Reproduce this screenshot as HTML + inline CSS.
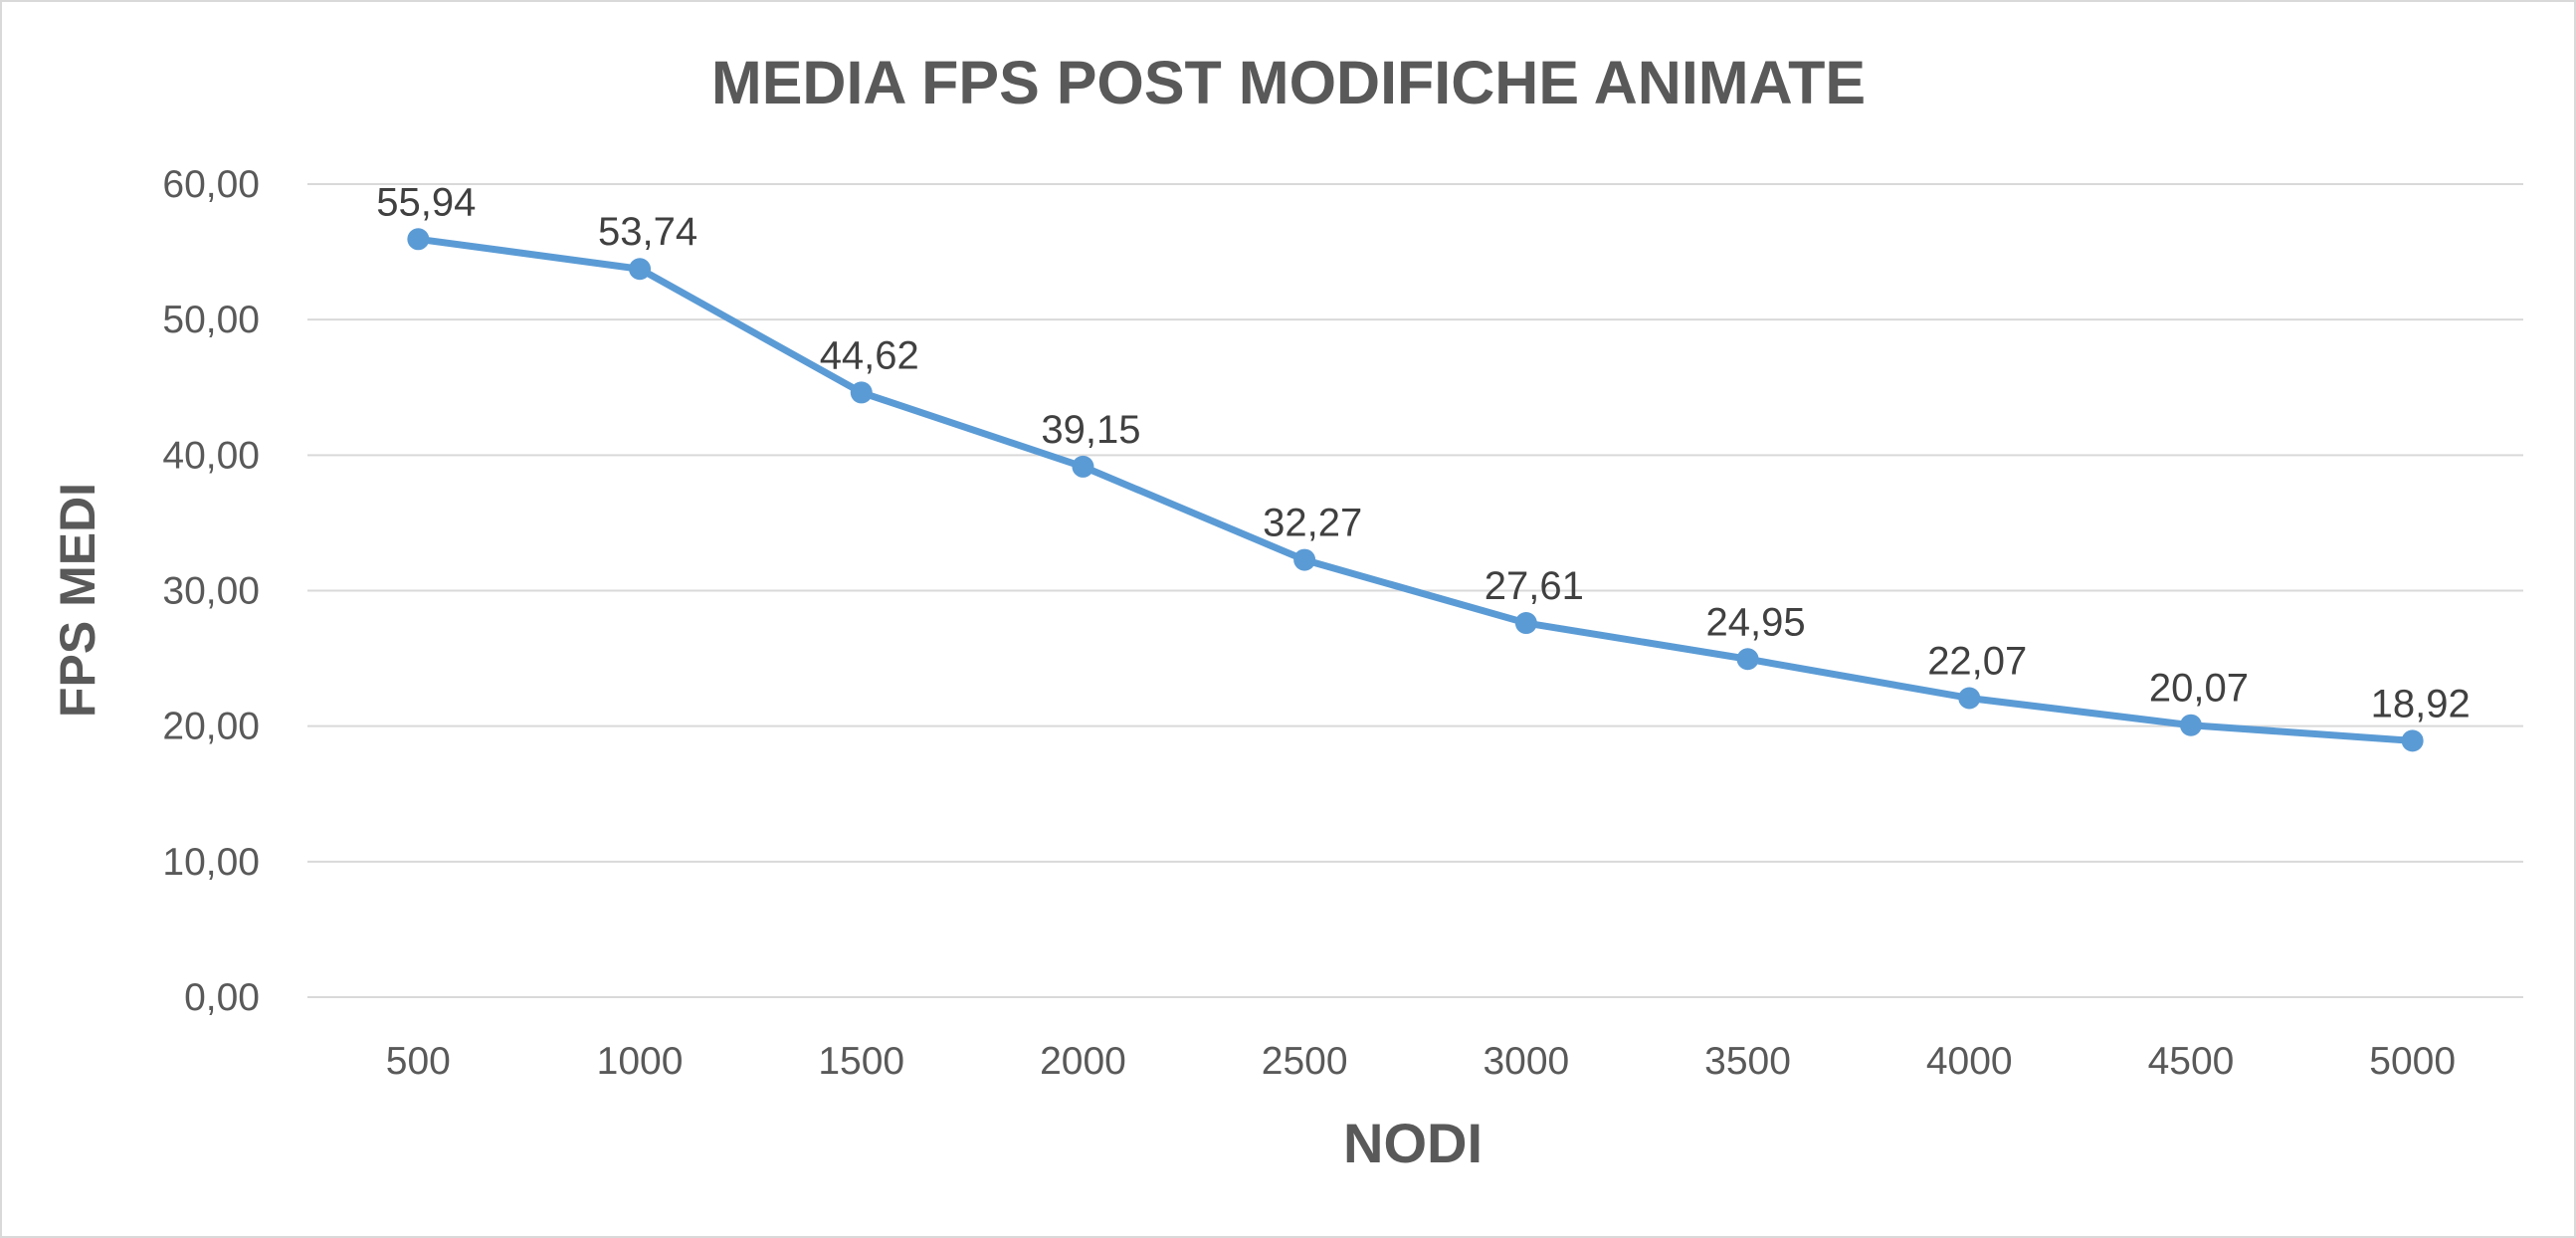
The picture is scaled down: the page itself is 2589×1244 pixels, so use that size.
<!DOCTYPE html>
<html><head><meta charset="utf-8"><style>
html,body{margin:0;padding:0;background:#fff;}
svg{display:block;font-family:"Liberation Sans",sans-serif;}
</style></head><body>
<svg id="chart" width="2589" height="1244" viewBox="0 0 2589 1244">
<rect x="1" y="1" width="2587" height="1242" fill="#fff" stroke="#d9d9d9" stroke-width="2"/>
<text x="1295" y="104" text-anchor="middle" font-size="61" font-weight="bold" fill="#595959">MEDIA FPS POST MODIFICHE ANIMATE</text>
<text transform="translate(95,603) rotate(-90)" text-anchor="middle" font-size="50" font-weight="bold" fill="#595959">FPS MEDI</text>
<text x="1420" y="1168" text-anchor="middle" font-size="56" font-weight="bold" fill="#595959">NODI</text>
<g id="grid"></g><g id="yt"></g><g id="xt"></g><g id="series"></g>
</svg>
<script>
const categories=["500","1000","1500","2000","2500","3000","3500","4000","4500","5000"];
const values=[55.94,53.74,44.62,39.15,32.27,27.61,24.95,22.07,20.07,18.92];
const yTicks=[0,10,20,30,40,50,60];
const NS="http://www.w3.org/2000/svg";
const L=309,R=2536,T=185,B=1002,yMax=60;
const xs=i=>L+(R-L)/categories.length*(i+0.5);
const ys=v=>B-(B-T)*v/yMax;
const fmt=v=>v.toFixed(2).replace('.',',');
function mk(tag,attrs,parent){const e=document.createElementNS(NS,tag);for(const k in attrs)e.setAttribute(k,attrs[k]);document.getElementById(parent).appendChild(e);return e;}
yTicks.forEach(t=>{
 const g=mk('line',{x1:L,x2:R,y1:ys(t),y2:ys(t),stroke:'#d9d9d9','stroke-width':2},'grid');
 
 
 const tx=mk('text',{x:L-48,y:ys(t)+13,'text-anchor':'end','font-size':39,fill:'#595959'},'yt');
 tx.textContent=fmt(t);
 
 
});
categories.forEach((c,i)=>{
 const tx=mk('text',{x:xs(i),y:1079,'text-anchor':'middle','font-size':39,fill:'#595959'},'xt');
 tx.textContent=c;
 
 
});
const pl=mk('polyline',{points:values.map((v,i)=>xs(i)+','+ys(v)).join(' '),fill:'none',stroke:'#5b9bd5','stroke-width':7,'stroke-linejoin':'round','stroke-linecap':'round'},'series');


values.forEach((v,i)=>{
 const c=mk('circle',{cx:xs(i),cy:ys(v),r:11,fill:'#5b9bd5'},'series');
 
 
 const t=mk('text',{x:xs(i)+8,y:ys(v)-24,'text-anchor':'middle','font-size':40,fill:'#404040'},'series');
 t.textContent=fmt(v);
 
 
});
</script>
</body></html>
